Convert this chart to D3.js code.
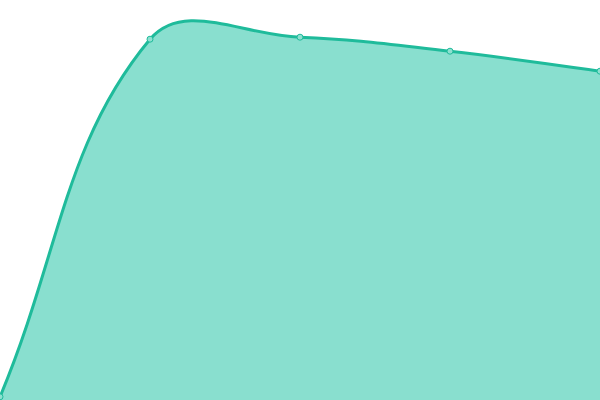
<!DOCTYPE html>
<html>
<head>
<meta charset="utf-8">
<script src="https://cdn.jsdelivr.net/npm/d3@7"></script>
<style>
  html, body { margin: 0; padding: 0; background: #fff; }
  svg { display: block; }
</style>
</head>
<body>
<svg width="600" height="400"></svg>
<script>
// data
var labels = ["A", "B", "C", "D", "E"];
var values = [0.8, 90.2, 90.7, 87.2, 82.2];

var svg = d3.select("svg"),
    width = +svg.attr("width"),
    height = +svg.attr("height");

var x = d3.scalePoint().domain(labels).range([0, width]),
    y = d3.scaleLinear().domain([0, 100]).range([height, 0]);

var pts = labels.map(function (l, i) {
    return [x(l), y(values[i])];
});

// spline like Chart.js (tension 0.4, control points capped to the area)
function splinePath(p, tension, closeTo) {
    var path = d3.path();
    var ctrl = p.map(function (cur, i) {
        var prev = p[i - 1] || cur, next = p[i + 1] || cur;
        var d01 = Math.hypot(cur[0] - prev[0], cur[1] - prev[1]),
            d12 = Math.hypot(next[0] - cur[0], next[1] - cur[1]);
        var s01 = d01 / (d01 + d12), s12 = d12 / (d01 + d12);
        if (isNaN(s01)) s01 = 0;
        if (isNaN(s12)) s12 = 0;
        var fa = tension * s01, fb = tension * s12;
        var cap = function (v, lo, hi) { return Math.max(lo, Math.min(hi, v)); };
        return {
            prev: [cap(cur[0] - fa * (next[0] - prev[0]), 0, width), cap(cur[1] - fa * (next[1] - prev[1]), 0, height)],
            next: [cap(cur[0] + fb * (next[0] - prev[0]), 0, width), cap(cur[1] + fb * (next[1] - prev[1]), 0, height)]
        };
    });
    path.moveTo(p[0][0], p[0][1]);
    for (var i = 1; i < p.length; i++) {
        path.bezierCurveTo(ctrl[i - 1].next[0], ctrl[i - 1].next[1], ctrl[i].prev[0], ctrl[i].prev[1], p[i][0], p[i][1]);
    }
    if (closeTo != null) {
        path.lineTo(p[p.length - 1][0], closeTo);
        path.lineTo(p[0][0], closeTo);
        path.closePath();
    }
    return path.toString();
}

svg.append("path")
    .attr("d", splinePath(pts, 0.4, y(0)))
    .attr("fill", "#89dfcf")
    .attr("stroke", "none");

svg.append("path")
    .attr("d", splinePath(pts, 0.4, null))
    .attr("fill", "none")
    .attr("stroke", "#1fbb9b")
    .attr("stroke-width", 3);

svg.selectAll(".dot")
    .data(pts)
    .enter().append("circle")
    .attr("class", "dot")
    .attr("cx", function (d) { return d[0]; })
    .attr("cy", function (d) { return d[1]; })
    .attr("r", 3)
    .attr("fill", "#8ee0d0")
    .attr("stroke", "#1fbb9b")
    .attr("stroke-width", 1);
</script>
</body>
</html>
